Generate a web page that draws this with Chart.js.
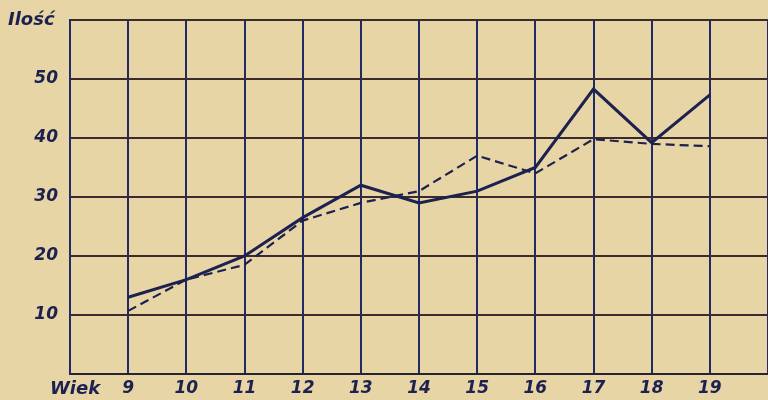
<!DOCTYPE html>
<html lang="pl">
<head>
    <meta charset="UTF-8">
    <title>Ilość / Wiek</title>
    <script src="https://cdn.jsdelivr.net/npm/chart.js"></script>
    <style>
        html, body { margin: 0; padding: 0; background: #e8d5a6; }
        #wrap { width: 768px; height: 400px; position: relative; }
    </style>
</head>
<body>
    <div id="wrap"><canvas id="chart"></canvas></div>

    <script>
        // ages on the x axis and the two series
        const ages = [9, 10, 11, 12, 13, 14, 15, 16, 17, 18, 19];
        const solidSeries = [13, 16, 20, 26.5, 32, 29, 31, 35, 48.3, 39.2, 47.3];
        const dashedSeries = [10.7, 16, 18.5, 26, 29, 31, 37, 34, 39.8, 39, 38.6];
        const xTickLabels = [9, 10, 11, 12, 13, 14, 15, 16, 17, 18, 19];
        const yTickLabels = [10, 20, 30, 40, 50];

        const ink = '#1d2150';
        const tickFont = { family: "'DejaVu Sans'", size: 17, style: 'italic', weight: 'bold' };

        const paper = {
            id: 'paper',
            beforeDraw(chart) {
                const c = chart.ctx;
                c.save();
                c.fillStyle = '#e8d5a6';
                c.fillRect(0, 0, chart.width, chart.height);
                c.restore();
            },
            afterDraw(chart) {
                const c = chart.ctx;
                c.save();
                c.fillStyle = ink;
                c.font = "italic bold 18px 'DejaVu Sans'";
                c.textBaseline = 'middle';
                c.textAlign = 'left';
                c.fillText('Ilość', 8, 20);
                c.fillText('Wiek', 50, 389);
                c.restore();
            }
        };

        new Chart(document.getElementById('chart'), {
            type: 'line',
            data: {
                datasets: [
                    {
                        label: 'solid',
                        data: ages.map((a, i) => ({ x: a, y: solidSeries[i] })),
                        borderColor: ink,
                        borderWidth: 3,
                        pointRadius: 0,
                        tension: 0,
                        fill: false
                    },
                    {
                        label: 'dashed',
                        data: ages.map((a, i) => ({ x: a, y: dashedSeries[i] })),
                        borderColor: ink,
                        borderWidth: 2.2,
                        borderDash: [9, 5],
                        pointRadius: 0,
                        tension: 0,
                        fill: false
                    }
                ]
            },
            options: {
                responsive: true,
                maintainAspectRatio: false,
                animation: false,
                layout: { padding: { top: 20, right: 0, left: 0, bottom: 0 } },
                plugins: { legend: { display: false }, tooltip: { enabled: false } },
                scales: {
                    x: {
                        type: 'linear',
                        min: 8,
                        max: 20,
                        afterFit: s => {
                            s.height = 26;
                            s.paddingLeft = 0;
                            s.paddingRight = 0;
                        },
                        afterBuildTicks: s => {
                            s.ticks = [8].concat(xTickLabels, [20]).map(v => ({ value: v }));
                        },
                        ticks: {
                            autoSkip: false,
                            maxRotation: 0,
                            padding: 4,
                            color: ink,
                            font: tickFont,
                            callback: v => xTickLabels.includes(v) ? String(v) : ''
                        },
                        grid: { color: '#1f2a66', lineWidth: 2, drawTicks: false },
                        border: { display: true, color: '#2a2430', width: 2 }
                    },
                    y: {
                        min: 0,
                        max: 60,
                        afterFit: s => {
                            s.width = 70;
                            s.paddingTop = 0;
                            s.paddingBottom = 0;
                        },
                        afterBuildTicks: s => {
                            s.ticks = [0].concat(yTickLabels, [60]).map(v => ({ value: v }));
                        },
                        ticks: {
                            padding: 12,
                            color: ink,
                            font: tickFont,
                            callback: v => yTickLabels.includes(v) ? String(v) : ''
                        },
                        grid: { color: '#3a2c2e', lineWidth: 2, drawTicks: false },
                        border: { display: true, color: '#1f2a66', width: 2 }
                    }
                }
            },
            plugins: [paper]
        });
    </script>
</body>
</html>
